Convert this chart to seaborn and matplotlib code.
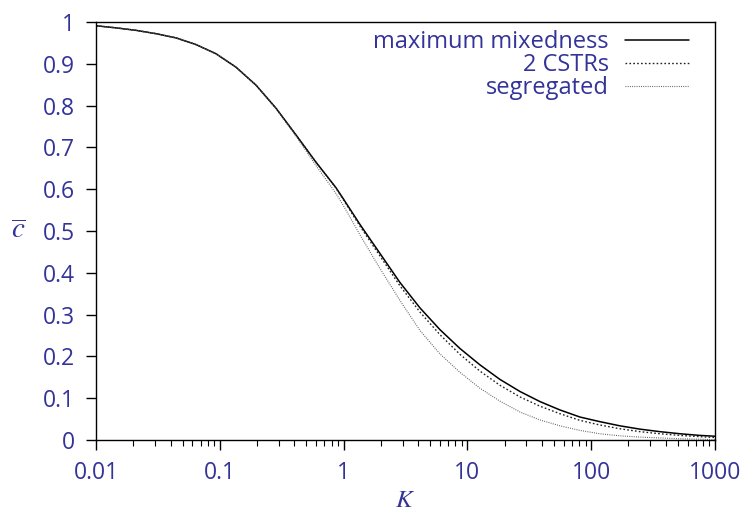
import numpy as np
import pandas as pd
import matplotlib
matplotlib.use("Agg")
import matplotlib.pyplot as plt
import seaborn as sns
from matplotlib.ticker import FixedLocator, LogLocator, NullFormatter

# Data
K = [0.01, 0.0145, 0.0211, 0.0306, 0.0443, 0.0643, 0.0932, 0.135, 0.196, 0.284,
     0.412, 0.597, 0.866, 1.0, 1.36, 1.97, 2.85, 4.14, 6.0, 8.7, 12.6, 18.3,
     26.6, 38.5, 55.8, 81.0, 117.0, 170.0, 247.0, 358.0, 519.0, 753.0, 1000.0]

c_max_mix = [0.991, 0.986, 0.980, 0.972, 0.962, 0.946, 0.924, 0.892, 0.849, 0.794,
             0.730, 0.665, 0.604, 0.576, 0.515, 0.446, 0.377, 0.316, 0.264, 0.219,
             0.180, 0.145, 0.116, 0.092, 0.072, 0.055, 0.044, 0.034, 0.026, 0.020,
             0.015, 0.011, 0.009]

c_2cstr = [0.991, 0.986, 0.980, 0.972, 0.962, 0.946, 0.924, 0.892, 0.849, 0.794,
           0.730, 0.665, 0.603, 0.574, 0.511, 0.440, 0.369, 0.306, 0.252, 0.205,
           0.165, 0.131, 0.103, 0.081, 0.063, 0.047, 0.036, 0.027, 0.020, 0.015,
           0.011, 0.008, 0.006]

c_segregated = [0.991, 0.986, 0.980, 0.972, 0.962, 0.946, 0.924, 0.892, 0.849, 0.793,
                0.727, 0.657, 0.590, 0.560, 0.490, 0.410, 0.334, 0.262, 0.206, 0.162,
                0.124, 0.093, 0.067, 0.048, 0.034, 0.023, 0.015, 0.010, 0.007, 0.005,
                0.003, 0.002, 0.001]

labels = ["maximum mixedness", "2 CSTRs", "segregated"]
xticks = [0.01, 0.1, 1, 10, 100, 1000]
xticklabels = ["0.01", "0.1", "1", "10", "100", "1000"]
yticks = [0, 0.1, 0.2, 0.3, 0.4, 0.5, 0.6, 0.7, 0.8, 0.9, 1.0]
yticklabels = ["0", "0.1", "0.2", "0.3", "0.4", "0.5", "0.6", "0.7", "0.8", "0.9", "1"]

sns.set_theme(style="white")
plt.rcParams['font.family'] = ['Open Sans', 'DejaVu Sans']
plt.rcParams['mathtext.fontset'] = 'stix'

txtc = "#333399"

fig = plt.figure(figsize=(7.45, 5.15), dpi=100)
ax = fig.add_axes([96/745, 75/515, 619/745, 418/515])

df = pd.concat([
    pd.DataFrame({"K": K, "c": c_max_mix, "model": labels[0]}),
    pd.DataFrame({"K": K, "c": c_2cstr, "model": labels[1]}),
    pd.DataFrame({"K": K, "c": c_segregated, "model": labels[2]}),
])

styles = {
    labels[0]: dict(color="black", lw=1.1, ls="-"),
    labels[1]: dict(color="#222222", lw=1.0, ls=(0, (1.2, 1.6))),
    labels[2]: dict(color="#555555", lw=0.8, ls=(0, (0.8, 1.2))),
}
for lab in labels:
    sub = df[df.model == lab]
    sns.lineplot(data=sub, x="K", y="c", ax=ax, label=lab, estimator=None,
                 sort=True, **styles[lab])

ax.set_xscale("log")
ax.set_xlim(0.01, 1000)
ax.set_ylim(0, 1)
ax.xaxis.set_major_locator(FixedLocator(xticks))
ax.set_xticklabels(xticklabels)
ax.xaxis.set_minor_locator(LogLocator(base=10, subs=np.arange(2, 10)))
ax.xaxis.set_minor_formatter(NullFormatter())
ax.set_yticks(yticks)
ax.set_yticklabels(yticklabels)

for s in ax.spines.values():
    s.set_color("black")
    s.set_linewidth(1.0)
    s.set_visible(True)

ax.tick_params(axis="both", which="major", direction="out", length=7, width=1,
               color="black", labelcolor=txtc, labelsize=16.5, pad=8,
               bottom=True, left=True, top=False, right=False)
ax.tick_params(axis="x", which="minor", direction="out", length=4, width=0.8,
               color="black", bottom=True, top=False)

ax.set_xlabel(r"$K$", fontsize=18, color=txtc, labelpad=2)
ax.set_ylabel(r"$\overline{c}$", fontsize=21, color=txtc, rotation=0, labelpad=18, va="center")

leg = ax.legend(loc="upper right", bbox_to_anchor=(0.985, 1.02), frameon=False,
                markerfirst=False, fontsize=17, handlelength=2.7, handletextpad=0.7,
                labelspacing=-0.05, borderpad=0.2)
for t in leg.get_texts():
    t.set_color(txtc)
    t.set_ha("right")

fig.savefig("out.png", dpi=100)
